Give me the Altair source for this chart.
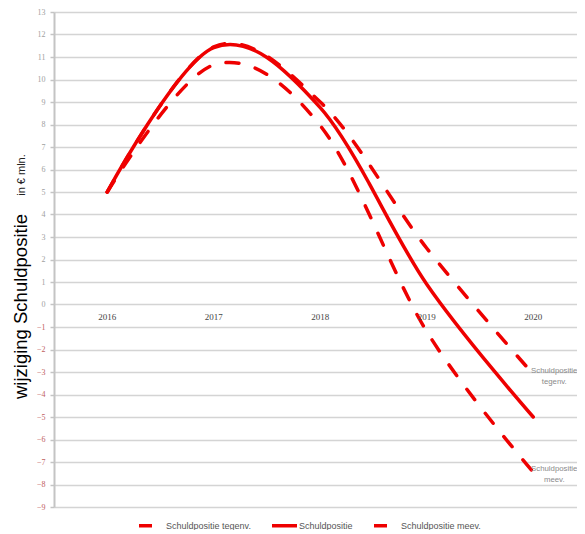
import altair as alt
import pandas as pd

# ---- data ----
years = [2016, 2017, 2018, 2019, 2020]
tegenv = [5.0, 11.45, 9.0, 2.5, -3.1]
basis = [5.0, 11.42, 8.75, 0.9, -5.0]
meev = [5.0, 10.65, 7.95, -1.2, -7.45]
series_names = ["Schuldpositie tegenv.", "Schuldpositie", "Schuldpositie meev."]
y_ticks = list(range(-9, 14))
year_labels = ["2016", "2017", "2018", "2019", "2020"]
end_labels = ["Schuldpositie\ntegenv.", "Schuldpositie\nmeev."]

rows = []
for name, vals in zip(series_names, [tegenv, basis, meev]):
    for j, v in zip(years, vals):
        rows.append({"jaar": j, "waarde": v, "reeks": name})
df = pd.DataFrame(rows)

years_df = pd.DataFrame({"jaar": years, "label": year_labels})
end_df = pd.DataFrame({"jaar": [years[-1], years[-1]],
                       "waarde": [tegenv[-1], meev[-1]],
                       "label": end_labels})
unit_df = pd.DataFrame({"t": ["in € mln."]})

RED = "#ee0000"
YTITLE = "wijziging Schuldpositie"

xscale = alt.Scale(domain=[2015.5, 2020.411], nice=False, zero=False)
yscale = alt.Scale(domain=[-9, 13], nice=False, zero=False)

def y_axis():
    return alt.Axis(
        values=y_ticks, format="d", labelOverlap=False, tickCount=23,
        titleFontSize=18.5, titleFont="Liberation Sans", titleFontWeight="normal",
        titleColor="#000000", titleAngle=270, titleX=-34, titleY=294,
        titleAlign="center", titleBaseline="middle",
        labelFont="Liberation Serif", labelFontSize=8,
        labelColor={"condition": {"test": "datum.value < 0", "value": "#c06060"},
                    "value": "#a0a0a0"},
        labelPadding=5, tickSize=4, tickColor="#c4c4c4", tickWidth=1.5,
        domainColor="#c4c4c4", domainWidth=2,
        grid=True, gridColor="#d4d4d4", gridWidth=1.5, labelFlush=False,
    )

legend_kw = dict(
    title=None, orient="none", legendX=83, legendY=499, direction="horizontal",
    symbolType="stroke", symbolStrokeWidth=3.5, symbolSize=625,
    labelFont="Liberation Sans", labelFontSize=9, labelColor="#555555",
    labelOffset=0, columnPadding=14, padding=0, labelLimit=300,
)

lines = alt.Chart(df).mark_line(
    interpolate="cardinal", tension=0, strokeWidth=3.5, strokeCap="round"
).encode(
    x=alt.X("jaar:Q", scale=xscale, axis=None),
    y=alt.Y("waarde:Q", scale=yscale, title=YTITLE, axis=y_axis()),
    color=alt.Color("reeks:N", scale=alt.Scale(domain=series_names, range=[RED] * 3),
                    legend=alt.Legend(**legend_kw)),
    strokeDash=alt.StrokeDash("reeks:N",
                              scale=alt.Scale(domain=series_names,
                                              range=[[13, 17], [400, 1], [13, 17]]),
                              legend=alt.Legend(**legend_kw)),
)

year_text = alt.Chart(years_df).transform_calculate(nul="0").mark_text(
    dy=12, font="Liberation Serif", fontSize=9, color="#444444", baseline="middle"
).encode(
    x=alt.X("jaar:Q", scale=xscale, axis=None),
    y=alt.Y("nul:Q", scale=yscale, title=YTITLE, axis=y_axis()),
    text="label:N",
)

end_text = alt.Chart(end_df).mark_text(
    dx=21, dy=-3, align="center", baseline="middle", lineBreak="\n", lineHeight=11,
    font="Liberation Sans", fontSize=7.8, color="#8a8a8a"
).encode(
    x=alt.X("jaar:Q", scale=xscale, axis=None),
    y=alt.Y("waarde:Q", scale=yscale, title=YTITLE, axis=y_axis()),
    text="label:N",
)

unit_text = alt.Chart(unit_df).mark_text(
    angle=270, font="Liberation Sans", fontSize=11, color="#222222",
    align="center", baseline="middle"
).encode(x=alt.value(-32), y=alt.value(163), text="t:N")

chart = alt.layer(lines, year_text, end_text, unit_text).properties(
    width=523, height=495,
    autosize=alt.AutoSizeParams(type="none"),
    padding={"left": 46, "top": 4, "right": 0, "bottom": 23},
).configure_view(stroke=None)

chart.save("out.html", embed_options={"renderer": "svg", "actions": False})
